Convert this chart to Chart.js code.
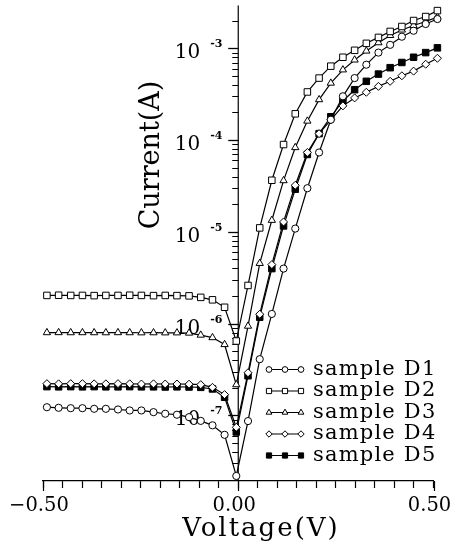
<!DOCTYPE html>
<html>
<head>
<meta charset="utf-8">
<script src="https://cdn.jsdelivr.net/npm/chart.js@4.4.1/dist/chart.umd.min.js"></script>
<style>
  html, body { margin: 0; padding: 0; background: #fff; }
  #wrap { width: 453px; height: 552px; }
</style>
</head>
<body>
<div id="wrap"><canvas id="ivChart"></canvas></div>
<script>
const FONT = "'DejaVu Serif', serif"

// voltage steps (V)
const voltages = [
  -0.490, -0.460, -0.429, -0.399, -0.369, -0.339, -0.308, -0.278, -0.248,
  -0.217, -0.187, -0.157, -0.126, -0.096, -0.066, -0.035, -0.005,
  0.025, 0.055, 0.086, 0.116, 0.146, 0.177, 0.207, 0.237, 0.268,
  0.298, 0.328, 0.359, 0.389, 0.419, 0.449, 0.480, 0.510
]

// currents (A)
const currentD1 = [
  1.229e-7, 1.211e-7, 1.199e-7, 1.199e-7, 1.181e-7, 1.181e-7, 1.161e-7, 1.133e-7, 1.133e-7,
  1.086e-7, 1.043e-7, 1.018e-7, 9.58e-8, 8.72e-8, 7.80e-8, 6.15e-8, 2.19e-8,
  8.68e-8, 4.10e-7, 1.276e-6, 3.98e-6, 1.086e-5, 2.99e-5, 7.33e-5, 1.665e-4, 3.00e-4,
  4.74e-4, 6.63e-4, 8.98e-4, 1.091e-3, 1.338e-3, 1.554e-3, 1.84e-3, 2.084e-3
]
const currentD2 = [
  2.03e-6, 2.04e-6, 2.03e-6, 2.03e-6, 2.02e-6, 2.03e-6, 2.03e-6, 2.04e-6, 2.03e-6,
  2.02e-6, 2.03e-6, 2.02e-6, 2.008e-6, 1.934e-6, 1.818e-6, 1.508e-6, 6.47e-7,
  2.608e-6, 1.105e-5, 3.65e-5, 8.94e-5, 1.934e-4, 3.345e-4, 4.74e-4, 6.39e-4, 7.99e-4,
  9.51e-4, 1.133e-3, 1.315e-3, 1.527e-3, 1.729e-3, 2.008e-3, 2.218e-3, 2.575e-3
]
const currentD3 = [
  7.99e-7, 8.0e-7, 7.98e-7, 7.99e-7, 7.98e-7, 7.97e-7, 7.99e-7, 7.98e-7, 7.96e-7,
  7.97e-7, 7.95e-7, 7.95e-7, 7.9e-7, 7.51e-7, 7.05e-7, 5.93e-7, 2.164e-7,
  9.40e-7, 4.54e-6, 1.338e-5, 3.62e-5, 8.30e-5, 1.613e-4, 2.76e-4, 4.18e-4, 5.83e-4,
  7.47e-4, 9.35e-4, 1.152e-3, 1.382e-3, 1.585e-3, 1.773e-3, 1.958e-3, 2.19e-3
]
const currentD4 = [
  2.22e-7, 2.21e-7, 2.22e-7, 2.22e-7, 2.21e-7, 2.21e-7, 2.22e-7, 2.21e-7, 2.20e-7,
  2.21e-7, 2.20e-7, 2.20e-7, 2.19e-7, 2.164e-7, 2.023e-7, 1.687e-7, 7.42e-8,
  2.917e-7, 1.267e-6, 4.40e-6, 1.283e-5, 3.22e-5, 7.33e-5, 1.176e-4, 1.665e-4, 2.36e-4,
  2.88e-4, 3.32e-4, 3.85e-4, 4.37e-4, 5.02e-4, 5.64e-4, 6.71e-4, 7.79e-4
]
const currentD5 = [
  2.06e-7, 2.05e-7, 2.06e-7, 2.05e-7, 2.06e-7, 2.05e-7, 2.05e-7, 2.06e-7, 2.05e-7,
  2.05e-7, 2.04e-7, 2.05e-7, 2.04e-7, 2.023e-7, 1.943e-7, 1.577e-7, 6.60e-8,
  2.706e-7, 1.176e-6, 3.98e-6, 1.161e-5, 2.917e-5, 6.97e-5, 1.176e-4, 1.795e-4, 2.67e-4,
  3.54e-4, 4.37e-4, 5.24e-4, 6.15e-4, 7.01e-4, 7.99e-4, 8.98e-4, 1.012e-3
]

const seriesLabels = ["sample D1", "sample D2", "sample D3", "sample D4", "sample D5"]
const seriesValues = [currentD1, currentD2, currentD3, currentD4, currentD5]
const seriesStyles = [
  { pointStyle: "circle", radius: 3.6, fill: "#fff" },
  { pointStyle: "rect", radius: 4.6, fill: "#fff" },
  { pointStyle: "triangle", radius: 4.2, fill: "#fff" },
  { pointStyle: "rectRot", radius: 4.0, fill: "#fff" },
  { pointStyle: "rect", radius: 4.6, fill: "#000" }
]

const xTickValues = [
  -0.5, -0.45, -0.4, -0.35, -0.3, -0.25, -0.2, -0.15, -0.1, -0.05, 0,
  0.05, 0.1, 0.15, 0.2, 0.25, 0.3, 0.35, 0.4, 0.45, 0.5
]
const xTickLabels = [
  { value: -0.5, text: "\u22120.50" },
  { value: 0, text: "0.00" },
  { value: 0.5, text: "0.50" }
]
const yDecades = [1e-7, 1e-6, 1e-5, 1e-4, 1e-3]
const yDecadeExponents = ["-7", "-6", "-5", "-4", "-3"]
const yMinorDecades = [1e-8, 1e-7, 1e-6, 1e-5, 1e-4, 1e-3]
const yMinorSteps = [2, 3, 4, 5, 6, 7, 8, 9]

function drawMarker(ctx, style, x, y, radius) {
  ctx.fillStyle = style.fill
  ctx.strokeStyle = "#000"
  ctx.lineWidth = 1
  if (Chart.helpers && Chart.helpers.drawPoint) {
    Chart.helpers.drawPoint(ctx, { pointStyle: style.pointStyle, radius, borderWidth: 1, rotation: 0 }, x, y)
    return
  }
  ctx.beginPath()
  ctx.arc(x, y, radius, 0, Math.PI * 2)
  ctx.fill()
  ctx.stroke()
}

// y axis is drawn at V = 0, with decade labels 10^n on its left
const logAxisPlugin = {
  id: "logAxis",
  beforeDatasetsDraw(chart) {
    const { ctx, chartArea, scales } = chart
    const yScale = scales.y
    const xScale = scales.x
    const x0 = xScale.getPixelForValue(0)

    ctx.save()
    ctx.strokeStyle = "#000"
    ctx.lineWidth = 1.2
    ctx.beginPath()
    ctx.moveTo(x0, chartArea.top)
    ctx.lineTo(x0, chartArea.bottom)
    ctx.stroke()

    ctx.lineWidth = 1
    yMinorDecades.forEach(decade => {
      yMinorSteps.forEach(step => {
        const v = decade * step
        if (v < yScale.min || v > yScale.max) {
          return
        }
        const y = Math.round(yScale.getPixelForValue(v)) + 0.5
        ctx.beginPath()
        ctx.moveTo(x0 - 6, y)
        ctx.lineTo(x0, y)
        ctx.stroke()
      })
    })

    ctx.fillStyle = "#000"
    yDecades.forEach((v, i) => {
      const y = Math.round(yScale.getPixelForValue(v)) + 0.5
      ctx.lineWidth = 1.3
      ctx.beginPath()
      ctx.moveTo(x0 - 10, y)
      ctx.lineTo(x0, y)
      ctx.stroke()

      ctx.font = `20px ${FONT}`
      ctx.textAlign = "right"
      ctx.textBaseline = "middle"
      ctx.fillText("10", x0 - 38, y + 4)
      ctx.font = `bold 11px ${FONT}`
      ctx.textAlign = "left"
      ctx.fillText(yDecadeExponents[i], x0 - 28, y - 4)
    })

    // longer end ticks on the voltage axis
    ctx.lineWidth = 1.2
    xTickLabels.forEach(t => {
      const x = Math.round(xScale.getPixelForValue(t.value)) + 0.5
      ctx.beginPath()
      ctx.moveTo(x, chartArea.bottom)
      ctx.lineTo(x, chartArea.bottom + 10)
      ctx.stroke()
    })

    ctx.font = `19.5px ${FONT}`
    ctx.textAlign = "center"
    ctx.textBaseline = "alphabetic"
    xTickLabels.forEach(t => {
      ctx.fillText(t.text, xScale.getPixelForValue(t.value) - 4, chartArea.bottom + 30)
    })

    ctx.font = `26px ${FONT}`
    ctx.letterSpacing = "2px"
    ctx.fillText("Voltage(V)", 261, chartArea.bottom + 55)

    ctx.font = `27px ${FONT}`
    ctx.letterSpacing = "0px"
    ctx.textBaseline = "middle"
    ctx.translate(152, 155)
    ctx.rotate(-Math.PI / 2)
    ctx.fillText("Current(A)", 0, 0)
    ctx.restore()
  }
}

const legendPlugin = {
  id: "markerLegend",
  afterDatasetsDraw(chart) {
    const { ctx } = chart
    ctx.save()
    seriesLabels.forEach((label, i) => {
      const y = 369.5 + i * 21.5
      ctx.strokeStyle = "#000"
      ctx.lineWidth = 1.2
      ctx.beginPath()
      ctx.moveTo(268, y)
      ctx.lineTo(302, y)
      ctx.stroke()
      ;[269, 285, 301].forEach(x => {
        drawMarker(ctx, seriesStyles[i], x, y, seriesStyles[i].radius * 0.8)
      })
      ctx.fillStyle = "#000"
      ctx.font = `21px ${FONT}`
      ctx.letterSpacing = "1.2px"
      ctx.textAlign = "left"
      ctx.textBaseline = "middle"
      ctx.fillText(label, 313, y)
    })
    ctx.restore()
  }
}

const datasets = seriesValues.map((values, i) => ({
  label: seriesLabels[i],
  data: voltages.map((v, k) => ({ x: v, y: values[k] })),
  borderColor: "#000",
  borderWidth: 1.2,
  backgroundColor: seriesStyles[i].fill,
  pointStyle: seriesStyles[i].pointStyle,
  pointRadius: seriesStyles[i].radius,
  pointBorderWidth: 1,
  pointBorderColor: "#000",
  pointBackgroundColor: seriesStyles[i].fill,
  tension: 0,
  clip: false
}))

new Chart(document.getElementById("ivChart"), {
  type: "line",
  data: { datasets },
  options: {
    responsive: true,
    maintainAspectRatio: false,
    animation: false,
    events: [],
    layout: {
      padding: { left: 43, right: 19.5, top: 2, bottom: 64 }
    },
    plugins: {
      legend: { display: false },
      tooltip: { enabled: false }
    },
    scales: {
      x: {
        type: "linear",
        min: -0.5,
        max: 0.5,
        afterBuildTicks: axis => {
          axis.ticks = xTickValues.map(value => ({ value }))
        },
        ticks: { display: false },
        grid: {
          drawOnChartArea: false,
          tickLength: 7,
          tickColor: "#000",
          tickWidth: 1.2
        },
        border: { color: "#000", width: 1.2 }
      },
      y: {
        type: "logarithmic",
        display: false,
        min: 1.93e-8,
        max: 2.92e-3
      }
    }
  },
  plugins: [logAxisPlugin, legendPlugin]
})
</script>
</body>
</html>
